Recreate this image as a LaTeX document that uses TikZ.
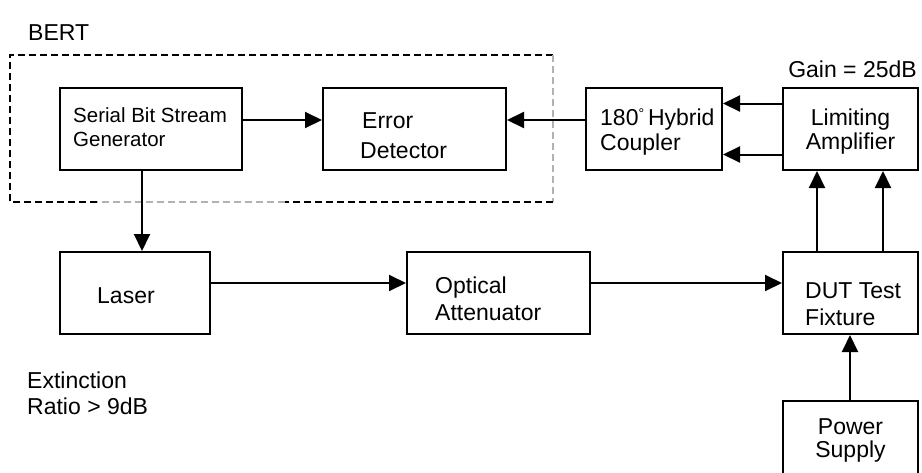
\documentclass[tikz,border=0pt]{standalone}
\usepackage{fontspec}
\setmainfont{Liberation Sans}
\usetikzlibrary{arrows.meta}
\begin{document}
\begin{tikzpicture}[x=1pt,y=-1pt,
  box/.style={draw,line width=2pt,minimum width=#1,inner sep=0pt,minimum height=82pt},
  box/.default=170pt,
  lbl/.style={anchor=base west,inner sep=0pt,align=left,font=\fontsize{23}{25}\selectfont},
  arr/.style={line width=2pt,-{Triangle[length=17pt,width=16pt]}},
  dashblk/.style={line width=1.4pt,dash pattern=on 7pt off 4pt},
  dashgry/.style={line width=1.4pt,dash pattern=on 7pt off 4pt,draw=black!30}]
\useasboundingbox (0,0) rectangle (922,472);
\fill[white] (0,0) rectangle (922,472);
% BERT dashed frame
\coordinate (dTL) at (10,55);
\coordinate (dTR) at (553,55);
\coordinate (dBL) at (10,202);
\coordinate (dBA) at (97,202);
\coordinate (dBM) at (285,202);
\coordinate (dBR) at (553,202);
\draw[dashblk] (dBA) -- (dBL) -- (dTL) -- (dTR);
\draw[dashgry] (dTR) -- (dBR);
\draw[dashblk] (dBR) -- (dBM);
\draw[dashgry] (dBM) -- (dBA);
% boxes
\node[box=182pt] (sbsg) at (151,129) {};
\node[box=183pt] (ed) at (414.5,129) {};
\node[box=136pt] (hc) at (654,129) {};
\node[box=135pt] (la) at (850.5,129) {};
\node[box=150pt] (laser) at (135,293) {};
\node[box=183pt] (oa) at (498.5,293) {};
\node[box=135pt] (dut) at (850.5,293) {};
\node[box=135pt,anchor=north] (ps) at (850.5,400) {};
% labels
\node[lbl] (tbert) at (28,40) {BERT};
\node[lbl,font=\fontsize{20.5}{24}\selectfont] (tsbsg) at (73,146) {Serial Bit Stream\\Generator};
\node[lbl,font=\fontsize{23}{30}\selectfont] (ted) at (360,158) {\hspace*{2pt}Error\\Detector};
\node[lbl] (thc) at (600,150) {180\raisebox{7pt}{\fontsize{14}{14}\selectfont °}\,Hybrid\\Coupler};
\node[lbl,align=center,anchor=base,font=\fontsize{23}{24}\selectfont] (tla) at (850.5,149) {Limiting\\Amplifier};
\node[lbl,anchor=base east] (tgain) at (917,77) {Gain = 25dB};
\node[lbl] (tlaser) at (97,303) {Laser};
\node[lbl,font=\fontsize{23}{27}\selectfont] (toa) at (435,320) {Optical\\Attenuator};
\node[lbl,font=\fontsize{23}{27}\selectfont] (tdut) at (805,325) {DUT Test\\Fixture};
\node[lbl,align=center,anchor=base,font=\fontsize{23}{23}\selectfont] (tps) at (850.5,457) {Power\\Supply};
\node[lbl,font=\fontsize{23}{26}\selectfont] (text) at (27,414) {Extinction\\Ratio > 9dB};
% connectors
\draw[arr] ([yshift=9pt]sbsg.east) -- ([yshift=9pt]ed.west);
\draw[arr] ([yshift=9pt]hc.west) -- ([yshift=9pt]ed.east);
\draw[arr] ([yshift=25.5pt]la.west) -- ([yshift=25.5pt]hc.east);
\draw[arr] ([yshift=-25.5pt]la.west) -- ([yshift=-25.5pt]hc.east);
\draw[arr] ([xshift=-9pt]sbsg.south) -- ([xshift=7pt]laser.north);
\draw[arr] ([yshift=10pt]laser.east) -- ([yshift=10pt]oa.west);
\draw[arr] ([yshift=10pt]oa.east) -- ([yshift=10pt]dut.west);
\draw[arr] ([xshift=-33.5pt]dut.north) -- ([xshift=-33.5pt]la.south);
\draw[arr] ([xshift=32.5pt]dut.north) -- ([xshift=32.5pt]la.south);
\draw[arr] ([xshift=-0.5pt]ps.north) -- ([xshift=-0.5pt]dut.south);
\end{tikzpicture}
\end{document}
